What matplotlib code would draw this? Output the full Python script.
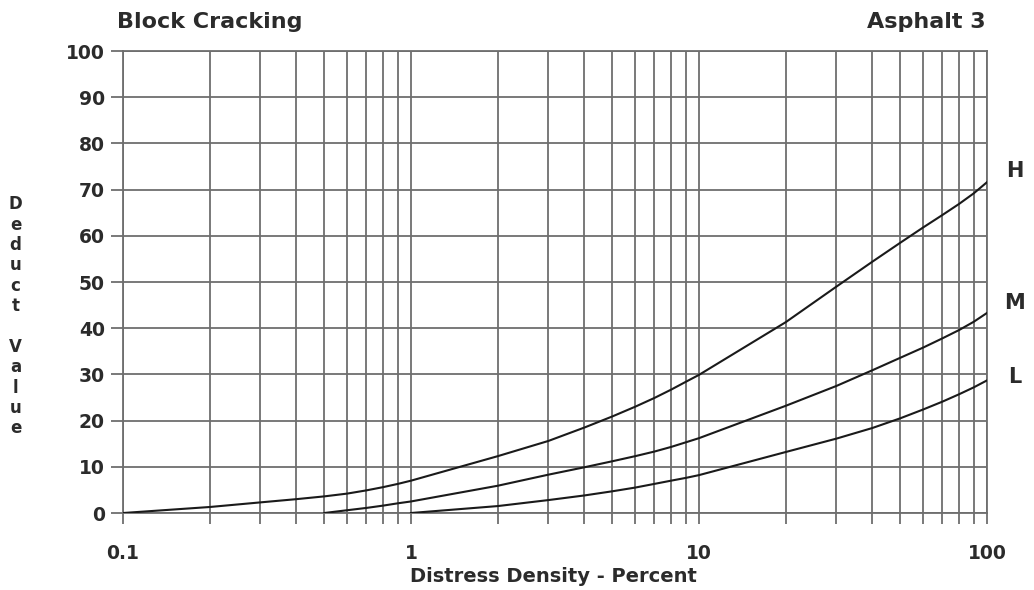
import matplotlib.pyplot as plt
from matplotlib.ticker import FixedLocator, NullFormatter

# deduct curves (density %, deduct value)
h_density = [0.1, 0.2, 0.3, 0.4, 0.5, 0.6, 0.7, 0.8, 0.9, 1, 2, 3, 4, 5, 6, 7, 8, 9,
             10, 20, 30, 40, 50, 60, 70, 80, 90, 100]
h_deduct = [0, 1.3, 2.3, 3.0, 3.6, 4.2, 4.9, 5.6, 6.3, 7.0, 12.3, 15.6, 18.5, 20.9,
            23, 24.9, 26.7, 28.4, 29.9, 41.3, 49.0, 54.4, 58.5, 61.8, 64.5, 66.9, 69.2, 71.6]

m_density = [0.5, 0.6, 0.7, 0.8, 0.9, 1, 2, 3, 4, 5, 6, 7, 8, 9,
             10, 20, 30, 40, 50, 60, 70, 80, 90, 100]
m_deduct = [0, 0.6, 1.1, 1.6, 2.1, 2.5, 5.9, 8.3, 9.9, 11.2, 12.3, 13.3, 14.3, 15.3,
            16.2, 23.2, 27.5, 30.9, 33.6, 35.8, 37.8, 39.6, 41.4, 43.3]

l_density = [1, 2, 3, 4, 5, 6, 7, 8, 9, 10, 20, 30, 40, 50, 60, 70, 80, 90, 100]
l_deduct = [0, 1.5, 2.8, 3.8, 4.7, 5.5, 6.3, 7.0, 7.6, 8.2, 13.2, 16.1, 18.4, 20.5,
            22.4, 24.1, 25.7, 27.2, 28.7]

x_ticks = [0.1, 1, 10, 100]
x_ticklabels = ["0.1", "1", "10", "100"]
y_ticks = list(range(0, 101, 10))

GRID = "#6e6e6e"
TXT = "#2b2b2b"

fig = plt.figure(figsize=(10.34, 5.9), dpi=100)
ax = fig.add_axes([0.119, 0.1305, 0.8355, 0.783])

ax.set_xscale("log")
ax.set_xlim(0.1, 100)
ax.set_ylim(0, 100)

minor = [m * 10.0 ** e for e in (-1, 0, 1) for m in range(2, 10)]
ax.xaxis.set_major_locator(FixedLocator(x_ticks))
ax.xaxis.set_minor_locator(FixedLocator(minor))
ax.xaxis.set_minor_formatter(NullFormatter())
ax.set_xticklabels(x_ticklabels)
ax.set_yticks(y_ticks)

ax.grid(True, which="both", axis="x", color=GRID, lw=1.3)
ax.grid(True, which="major", axis="y", color=GRID, lw=1.3)
for s in ax.spines.values():
    s.set_color(GRID)
    s.set_linewidth(1.3)

ax.tick_params(axis="x", which="both", direction="out", length=8, width=1.3,
               color=GRID, pad=14, labelsize=13.5, labelcolor=TXT)
ax.tick_params(axis="y", which="major", direction="out", length=9, width=1.3,
               color=GRID, pad=4, labelsize=13.5, labelcolor=TXT)
for lbl in ax.get_xticklabels() + ax.get_yticklabels():
    lbl.set_fontweight("bold")

for xs, ys in [(h_density, h_deduct), (m_density, m_deduct), (l_density, l_deduct)]:
    ax.plot(xs, ys, color="#1a1a1a", lw=1.5, zorder=3)

for name, yv in [("H", 74), ("M", 45.4), ("L", 29.5)]:
    ax.text(125, yv, name, fontsize=15, color=TXT, fontweight="bold",
            ha="center", va="center", clip_on=False)

fig.text(0.113, 0.962, "Block Cracking", fontsize=16, fontweight="bold",
         color=TXT, ha="left", va="center")
fig.text(0.953, 0.962, "Asphalt 3", fontsize=16, fontweight="bold",
         color=TXT, ha="right", va="center")
fig.text(0.535, 0.023, "Distress Density - Percent", fontsize=14,
         fontweight="bold", color=TXT, ha="center", va="center")
fig.text(0.015, 0.464, "\n".join("Deduct Value"), fontsize=12,
         fontweight="bold", color=TXT, ha="center", va="center",
         linespacing=1.17)

fig.savefig("out.png", dpi=100, facecolor="white")
